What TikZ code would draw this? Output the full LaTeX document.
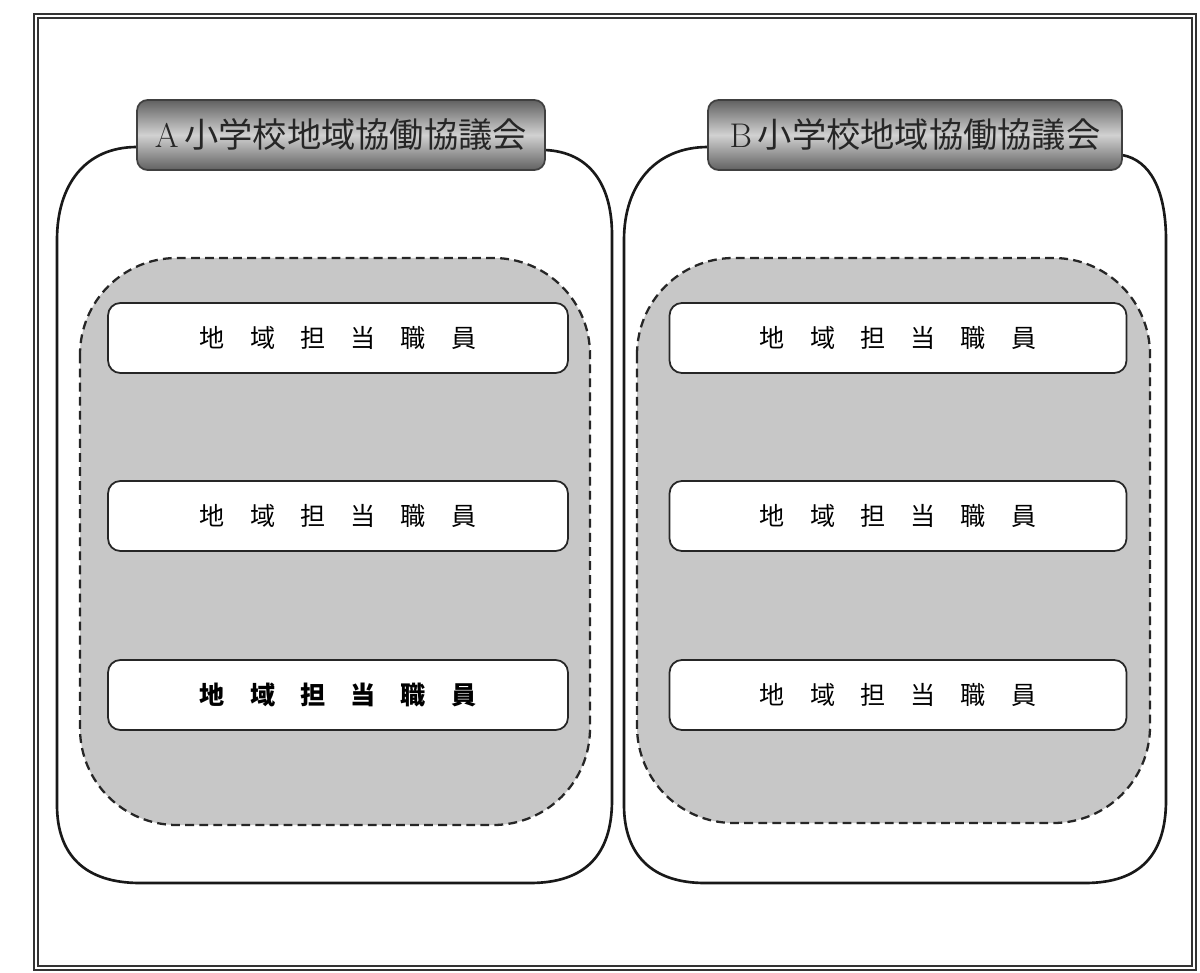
\documentclass[tikz,border=0pt]{standalone}
\usepackage{fontspec}
\newfontfamily\jpfont{Noto Sans CJK JP}
\begin{document}
\begin{tikzpicture}[x=0.02cm,y=-0.02cm,
  frameline/.style={line width=0.9pt,draw=black!80},
  bigbox/.style={line width=1.5pt,draw=black!90},
  dasharea/.style={line width=1.3pt,draw=black!85,dash pattern=on 5pt off 3pt,fill=black!22},
  header/.style={draw=black!75,line width=1pt,rounded corners=6pt,
     top color=black!62,bottom color=black!62,middle color=black!18,
     minimum width=8.2cm,minimum height=1.4cm,inner sep=0pt,
     font=\fontsize{19.5}{21}\selectfont,text=black!85},
  staffbox/.style={draw=black!85,line width=1pt,fill=white,rounded corners=7pt,
     minimum height=1.4cm,inner sep=0pt,font=\jpfont\fontsize{14.3}{16}\selectfont}]
\useasboundingbox (0,0) rectangle (1200,973);
\fill[white] (0,0) rectangle (1200,973);
% outer double frame
\draw[frameline] (34,14) rectangle (1196,970);
\draw[frameline] (38,18) rectangle (1192,966);
% big boxes
\draw[bigbox] (137,147) .. controls (85,147) and (57,185) .. (57,240) -- (57,805)
  .. controls (57,855) and (85,883) .. (140,883) -- (530,883)
  .. controls (585,883) and (612,855) .. (612,800) -- (612,235)
  .. controls (612,185) and (590,152) .. (545,150);
\draw[bigbox] (708,147) .. controls (655,147) and (624,185) .. (624,240) -- (624,805)
  .. controls (624,855) and (652,883) .. (705,883) -- (1085,883)
  .. controls (1140,883) and (1166,855) .. (1166,800) -- (1166,240)
  .. controls (1166,190) and (1150,160) .. (1122,155);
% dashed areas
\path[dasharea] (80,258) [rounded corners=55] -- (80,825) -- (590,825) -- (590,258) -- cycle;
\path[dasharea] (637,258) [rounded corners=55] -- (637,823) -- (1150,823) -- (1150,258) -- cycle;
% staff boxes
\node[staffbox,minimum width=9.2cm] (a1) at (338,338) {地\hspace{1em}域\hspace{1em}担\hspace{1em}当\hspace{1em}職\hspace{1em}員};
\node[staffbox,minimum width=9.2cm] (a2) at (338,516) {地\hspace{1em}域\hspace{1em}担\hspace{1em}当\hspace{1em}職\hspace{1em}員};
\node[staffbox,minimum width=9.2cm,font=\jpfont\bfseries\fontsize{14.3}{16}\selectfont] (a3) at (338,695) {地\hspace{1em}域\hspace{1em}担\hspace{1em}当\hspace{1em}職\hspace{1em}員};
\node[staffbox,minimum width=9.14cm] (b1) at (898,338) {地\hspace{1em}域\hspace{1em}担\hspace{1em}当\hspace{1em}職\hspace{1em}員};
\node[staffbox,minimum width=9.14cm] (b2) at (898,516) {地\hspace{1em}域\hspace{1em}担\hspace{1em}当\hspace{1em}職\hspace{1em}員};
\node[staffbox,minimum width=9.14cm] (b3) at (898,695) {地\hspace{1em}域\hspace{1em}担\hspace{1em}当\hspace{1em}職\hspace{1em}員};
% headers
\node[header,minimum width=8.16cm] (ha) at (341,135) {A\,{\jpfont 小学校地域協働協議会}};
\node[header,minimum width=8.28cm] (hb) at (915,135) {B\,{\jpfont 小学校地域協働協議会}};
\end{tikzpicture}
\end{document}
